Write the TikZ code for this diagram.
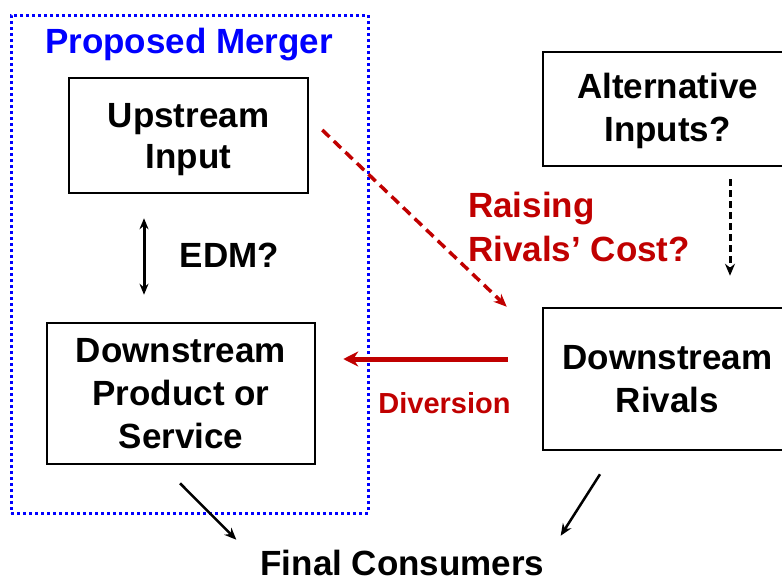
\documentclass[tikz,border=0pt]{standalone}
\usepackage{fontspec}
\setmainfont{Liberation Sans}
\usetikzlibrary{arrows.meta,calc}
\definecolor{mblue}{RGB}{0,0,255}
\definecolor{mred}{RGB}{192,0,0}
\begin{document}
\begin{tikzpicture}[x=1pt,y=-1pt,
  box/.style={draw,line width=2.5pt,align=center,font=\bfseries\fontsize{35}{43}\selectfont,inner sep=0pt},
  lbl/.style={font=\bfseries\fontsize{35}{44}\selectfont,inner sep=0pt},
  frame/.style={draw=mblue,line width=3pt,dash pattern=on 3pt off 3pt,inner sep=0pt},
  conn/.style={line width=2.5pt,-{Stealth[length=12pt,width=10pt]}},
  dconn/.style={line width=3pt,{Stealth[length=11pt,width=9pt]}-{Stealth[length=11pt,width=9pt]}},
  rdash/.style={draw=mred,line width=3.5pt,dash pattern=on 10pt off 6pt,-{Stealth[length=13pt,width=11pt]}},
  bdash/.style={line width=3pt,dash pattern=on 7pt off 4pt,-{Stealth[length=12pt,width=10pt]}},
  rthick/.style={draw=mred,line width=5pt,-{Stealth[length=15pt,width=15pt]}},
 ]
\useasboundingbox (0,0) rectangle (782,581);
\node[frame,minimum width=357pt,minimum height=498pt] (merger) at (189.5,264) {};
\node[lbl,text=mblue,anchor=base] (title) at (189,53) {Proposed Merger};
\node[box,minimum width=239pt,minimum height=115pt,font=\bfseries\fontsize{35}{41}\selectfont] (up) at (188.5,135.5) {\rule{0pt}{32pt}Upstream\\Input};
\node[box,minimum width=268pt,minimum height=141pt] (dprod) at (181,393.5) {Downstream\\Product or\\Service};
\node[box,minimum width=249pt,minimum height=142pt] (riv) at (667.5,379) {Downstream\\Rivals};
\node[box,minimum width=249pt,minimum height=114pt] (alt) at (667.5,109) {\rule{0pt}{29pt}Alternative\\Inputs?};
\node[lbl,anchor=base] (edm) at (229.5,267) {EDM?};
\node[lbl,text=mred,align=left,anchor=west] (rrc) at (468,227) {Raising\\Rivals’ Cost?};
\node[font=\bfseries\fontsize{29}{34}\selectfont,text=mred,anchor=base,inner sep=0pt] (div) at (444.5,413) {Diversion};
\node[lbl,anchor=base] (final) at (402.5,575) {Final Consumers};
% connectors
\draw[dconn] ([xshift=-44.5pt,yshift=-24pt]up.south) -- ([xshift=-37pt,yshift=27pt]dprod.north);
\draw[rdash] ([xshift=13pt,yshift=5.5pt]up.east) -- ([xshift=-35pt]riv.north west);
\draw[rthick] ([xshift=-34pt,yshift=20pt]riv.west) -- ([xshift=27pt,yshift=34.5pt]dprod.east);
\draw[bdash] ([xshift=62.5pt,yshift=-12pt]alt.south) -- ([xshift=62.5pt,yshift=31pt]riv.north);
\draw[conn] ([xshift=-1pt,yshift=-18pt]dprod.south) -- ([xshift=-24pt,yshift=9.7pt]final.north west);
\draw[conn] ([xshift=-67.5pt,yshift=-23pt]riv.south) -- ([xshift=16pt,yshift=13.7pt]final.north east);
\end{tikzpicture}
\end{document}
